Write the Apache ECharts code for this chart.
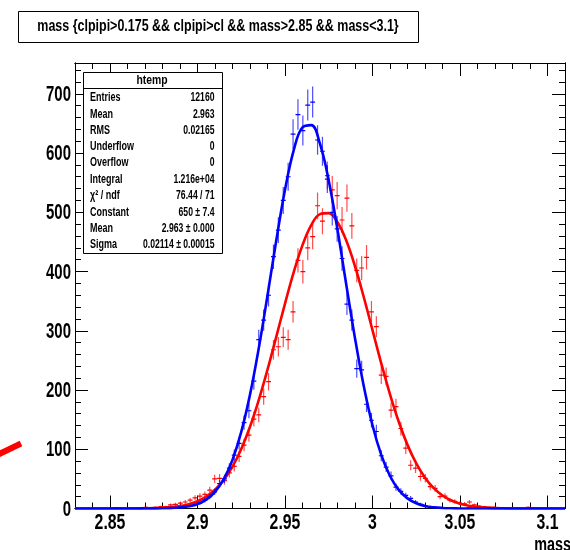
<!DOCTYPE html>
<html><head><meta charset="utf-8">
<script src="https://cdn.jsdelivr.net/npm/echarts@6/dist/echarts.min.js"></script>
<style>html,body{margin:0;padding:0;background:#fff}#c{width:570px;height:550px}</style>
</head><body><div id="c"></div>
<script>
// ---- histogram binning (100 bins from 2.83 to 3.11) ----
const BIN_LO = 2.83;
const BIN_W = 0.0028;
const X_MIN = 2.83;
const X_MAX = 3.11;
const Y_MIN = 0;
const Y_MAX = 752;

// blue histogram (htemp) bin contents, bins 0..99
const blueCounts = [
  0,0,0,0,0,0,0,0,1,0,
  0,0,0,1,0,0,0,1,0,1,
  1,2,3,4,6,9,14,20,28,42,
  50,68,90,110,145,165,215,285,318,360,
  425,470,520,560,632,665,638,681,686,622,
  603,556,500,472,422,345,318,236,234,176,
  149,130,89,70,55,36,29,22,17,11,
  7,4,3,2,1,1,0,1,0,0,
  1,0,0,0,1,0,0,0,0,0,
  0,0,0,0,0,0,0,0,0,0
];
// red histogram bin contents, bins 0..99
const redCounts = [
  0,0,0,0,0,0,0,1,0,1,
  0,1,1,0,2,1,2,3,3,6,
  7,9,11,14,18,21,24,31,50,51,
  47,60,71,88,107,124,151,158,189,214,
  268,273,289,285,332,419,400,440,459,511,
  485,562,538,528,487,524,477,402,406,424,
  332,307,225,223,166,172,135,102,73,68,
  54,51,37,34,20,21,14,12,9,8,
  11,6,4,3,2,2,1,1,0,0,
  1,0,2,1,1,0,0,0,0,0
];

const fitX = [2.83,2.835,2.84,2.845,2.85,2.855,2.86,2.865,2.87,2.875,2.88,2.885,2.89,2.895,2.9,2.905,2.91,2.915,2.92,2.925,2.93,2.935,2.94,2.945,2.95,2.955,2.96,2.965,2.97,2.975,2.98,2.985,2.99,2.995,3.0,3.005,3.01,3.015,3.02,3.025,3.03,3.035,3.04,3.045,3.05,3.055,3.06,3.065,3.07,3.075,3.08,3.085,3.09,3.095,3.1,3.105,3.11];
const blueFit = [0,0,0,0,0,0,0,0,0,0.1,0.3,0.7,1.7,3.7,7.7,15.1,28.0,49.4,82.1,129.2,192.2,270.4,359.6,452.3,538.0,605.1,643.5,647.1,615.3,553.3,470.4,378.2,287.5,206.7,140.5,90.4,54.9,31.5,17.1,8.8,4.3,2.0,0.9,0.4,0.1,0,0,0,0,0,0,0,0,0,0,0,0];
const redFit = [0,0,0,0,0,0,0,0,0.3,0.6,1.2,2.3,4.1,7.2,12.2,20.0,31.6,48.1,70.7,100.6,138.0,183.0,234.3,289.7,345.9,399.0,444.5,478.2,496.9,498.6,483.2,452.3,408.9,357.0,301.0,245.1,192.8,146.5,107.4,76.1,52.1,34.4,22.0,13.5,8.1,4.6,2.6,1.4,0.7,0.4,0.2,0,0,0,0,0,0];

// axis ticks and labels
const xMajorTicks = [2.85, 2.9, 2.95, 3.0, 3.05, 3.1];
const xTickLabels = ['2.85', '2.9', '2.95', '3', '3.05', '3.1'];
const xMinorTicks = [2.83,2.84,2.85,2.86,2.87,2.88,2.89,2.9,2.91,2.92,2.93,2.94,2.95,2.96,2.97,2.98,2.99,3.0,3.01,3.02,3.03,3.04,3.05,3.06,3.07,3.08,3.09,3.1,3.11];
const yMajorTicks = [0,100,200,300,400,500,600,700];
const yTickLabels = ['0','100','200','300','400','500','600','700'];
const yMinorTicks = [0,20,40,60,80,100,120,140,160,180,200,220,240,260,280,300,320,340,360,380,400,420,440,460,480,500,520,540,560,580,600,620,640,660,680,700,720,740];

// texts
const titleText = 'mass {clpipi>0.175 && clpipi>cl && mass>2.85 && mass<3.1}';
const xAxisTitle = 'mass';
const statsName = 'htemp';
const statsLabels = ['Entries','Mean','RMS','Underflow','Overflow','Integral','\u03C7\u00B2 / ndf','Constant','Mean','Sigma'];
const statsValues = ['12160','2.963','0.02165','0','0','1.216e+04','76.44 / 71','650 \u00B1 7.4','2.963 \u00B1 0.000','0.02114 \u00B1 0.00015'];

const FONT = '"Liberation Sans", Arial, Helvetica, sans-serif';

function histData(counts) {
  const d = [];
  counts.forEach((c, i) => { if (c > 0) d.push([BIN_LO + (i + 0.5) * BIN_W, c, Math.sqrt(c)]); });
  return d;
}
function crossRenderer(color) {
  return function (params, api) {
    const x = api.value(0), y = api.value(1), e = api.value(2);
    const c = api.coord([x, y]);
    const l = api.coord([x - BIN_W / 2, y]);
    const r = api.coord([x + BIN_W / 2, y]);
    const t = api.coord([x, y + e]);
    const b = api.coord([x, Math.max(0, y - e)]);
    return { type: 'group', children: [
      { type: 'line', shape: { x1: c[0], y1: t[1], x2: c[0], y2: b[1] }, style: { stroke: color, lineWidth: 1.2, opacity: 0.7 } },
      { type: 'line', shape: { x1: l[0], y1: c[1], x2: r[0], y2: c[1] }, style: { stroke: color, lineWidth: 1.2 } }
    ]};
  };
}

function xAx(pos, ticks, len) {
  return {
    type: 'value', min: X_MIN, max: X_MAX, position: pos,
    axisLine: { show: true, onZero: false, lineStyle: { color: '#000', width: 1 } },
    splitLine: { show: false },
    axisTick: { show: true, inside: true, length: len, customValues: ticks, lineStyle: { color: '#000', width: 1 } },
    axisLabel: { show: false }
  };
}
function yAx(pos, ticks, len) {
  return {
    type: 'value', min: Y_MIN, max: Y_MAX, position: pos,
    axisLine: { show: true, onZero: false, lineStyle: { color: '#000', width: 1 } },
    splitLine: { show: false },
    axisTick: { show: true, inside: true, length: len, customValues: ticks, lineStyle: { color: '#000', width: 1 } },
    axisLabel: { show: false }
  };
}

const chart = echarts.init(document.getElementById('c'), null, { renderer: 'canvas' });
chart.setOption({
  animation: false,
  backgroundColor: '#fff',
  grid: { left: 75, right: 5, top: 63, bottom: 41.5, containLabel: false, show: false },
  xAxis: [ xAx('bottom', xMajorTicks, 13), xAx('bottom', xMinorTicks, 6), xAx('top', xMajorTicks, 13), xAx('top', xMinorTicks, 6) ],
  yAxis: [ yAx('left', yMajorTicks, 13), yAx('left', yMinorTicks, 6), yAx('right', yMajorTicks, 13), yAx('right', yMinorTicks, 6) ],
  series: [
    { type: 'custom', name: 'red hist', data: histData(redCounts), renderItem: crossRenderer('#ff0000'), clip: true, z: 3 },
    { type: 'line', name: 'red fit', data: fitX.map((x, i) => [x, redFit[i]]), showSymbol: false, smooth: 0.4, lineStyle: { color: '#ff0000', width: 2.6 }, z: 4 },
    { type: 'custom', name: 'blue hist', data: histData(blueCounts), renderItem: crossRenderer('#0000ff'), clip: true, z: 5 },
    { type: 'line', name: 'blue fit', data: fitX.map((x, i) => [x, blueFit[i]]), showSymbol: false, smooth: 0.4, lineStyle: { color: '#0000ff', width: 2.6 }, z: 6 }
  ]
});

// ---- texts drawn as (horizontally condensed) graphic text, positioned from the axes ----
const gr = [];
// tick labels
const axisY = chart.convertToPixel({ yAxisIndex: 0 }, 0);
xMajorTicks.forEach((v, i) => {
  const px = chart.convertToPixel({ xAxisIndex: 0 }, v);
  gr.push({ type: 'text', x: px, y: axisY + 14, scaleX: 0.72, z: 50, style: { text: xTickLabels[i], font: 'bold 22px ' + FONT, fill: '#000', align: 'center', verticalAlign: 'middle' } });
});
yMajorTicks.forEach((v, i) => {
  const py = chart.convertToPixel({ yAxisIndex: 0 }, v);
  gr.push({ type: 'text', x: 71, y: py + 1, scaleX: 0.68, z: 50, style: { text: yTickLabels[i], font: 'bold 22px ' + FONT, fill: '#000', align: 'right', verticalAlign: 'middle' } });
});
// axis title
gr.push({ type: 'text', x: 571, y: 545, scaleX: 0.72, z: 50, style: { text: xAxisTitle, font: 'bold 20px ' + FONT, fill: '#000', align: 'right', verticalAlign: 'middle' } });
// title box
gr.push({ type: 'rect', shape: { x: 18.5, y: 11.5, width: 400, height: 31 }, style: { fill: '#fff', stroke: '#000', lineWidth: 1 }, z: 100 });
gr.push({ type: 'text', x: 218, y: 27, scaleX: 0.78, z: 101, style: { text: titleText, font: 'bold 16px ' + FONT, fill: '#000', align: 'center', verticalAlign: 'middle' } });
// stray red stroke at left edge
gr.push({ type: 'line', shape: { x1: -3, y1: 455, x2: 21, y2: 443.5 }, style: { stroke: '#ff0000', lineWidth: 6 }, z: 100 });
// stats box
const SB = { x: 83, y: 72, w: 139, h: 181 };
gr.push({ type: 'rect', shape: { x: SB.x + 0.5, y: SB.y + 0.5, width: SB.w, height: SB.h }, style: { fill: '#fff', stroke: '#000', lineWidth: 1 }, z: 100 });
gr.push({ type: 'line', shape: { x1: SB.x, y1: 88.5, x2: SB.x + SB.w, y2: 88.5 }, style: { stroke: '#000', lineWidth: 1 }, z: 101 });
gr.push({ type: 'text', x: 152, y: 80.5, scaleX: 0.8, z: 101, style: { text: statsName, font: 'bold 13px ' + FONT, fill: '#000', align: 'center', verticalAlign: 'middle' } });
const rowY = [98, 114.3, 130.5, 146.8, 163, 179.5, 196, 212.5, 228.8, 245];
statsLabels.forEach((t, i) => {
  gr.push({ type: 'text', x: 90, y: rowY[i], scaleX: 0.75, z: 101, style: { text: t, font: 'bold 12px ' + FONT, fill: '#000', align: 'left', verticalAlign: 'middle' } });
  gr.push({ type: 'text', x: 214.5, y: rowY[i], scaleX: 0.72, z: 101, style: { text: statsValues[i], font: 'bold 12px ' + FONT, fill: '#000', align: 'right', verticalAlign: 'middle' } });
});
chart.setOption({ graphic: gr });
</script></body></html>
